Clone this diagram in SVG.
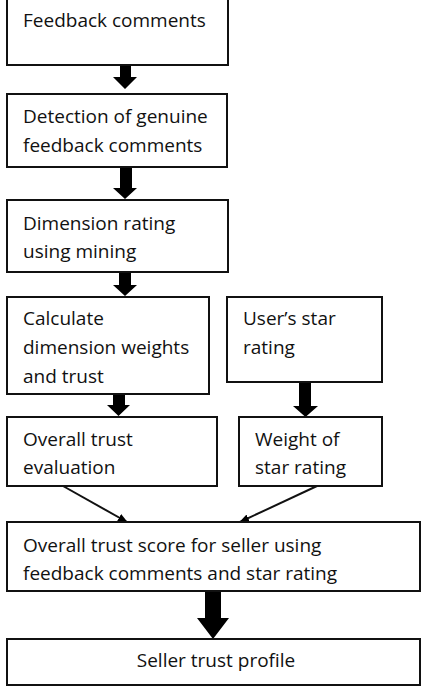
<svg xmlns="http://www.w3.org/2000/svg" width="425" height="687" viewBox="0 0 425 687">
<defs>
<style>
.box{fill:#fff;stroke:#111;stroke-width:2}
.t{font-family:"Open Sans","Liberation Sans",sans-serif;font-size:19px;fill:#111}
.blk{fill:#000}
.ln{stroke:#111;stroke-width:2;fill:none}
</style>
<marker id="ah" markerWidth="10" markerHeight="8" refX="9" refY="4" orient="auto" markerUnits="userSpaceOnUse">
<path d="M0,0 L10,4 L0,8 z" fill="#000"/>
</marker>
</defs>
<rect width="425" height="687" fill="#fff"/>
<g id="connectors">
<polygon class="blk" points="120,65 131,65 131,77 137,77 125,89 113,77 120,77"/>
<polygon class="blk" points="120,167 132,167 132,188 137,188 125,199 113,188 120,188"/>
<polygon class="blk" points="119,272 131,272 131,285 137,285 125,296 113,285 119,285"/>
<polygon class="blk" points="113,394 125,394 125,405 130,405 118.5,416 107,405 113,405"/>
<polygon class="blk" points="299,382 311,382 311,406 318,406 305.5,417 293,406 299,406"/>
<polygon class="blk" points="205,591 221,591 221,618 229,618 213,639 197,618 205,618"/>
<line class="ln" x1="63" y1="486" x2="127" y2="522" marker-end="url(#ah)"/>
<line class="ln" x1="317" y1="486" x2="240" y2="522" marker-end="url(#ah)"/>
</g>
<g id="n1"><rect class="box" x="7" y="-2" width="221" height="67"/><text class="t" x="23" y="27">Feedback comments</text></g>
<g id="n2"><rect class="box" x="7" y="94" width="220" height="73"/><text class="t" x="23" y="123">Detection of genuine</text><text class="t" x="23" y="152">feedback comments</text></g>
<g id="n3"><rect class="box" x="7" y="200" width="221" height="72"/><text class="t" x="23" y="230">Dimension rating</text><text class="t" x="23" y="258">using mining</text></g>
<g id="n4"><rect class="box" x="7" y="297" width="202" height="97"/><text class="t" x="23" y="325">Calculate</text><text class="t" x="23" y="354">dimension weights</text><text class="t" x="23" y="383">and trust</text></g>
<g id="n5"><rect class="box" x="227" y="297" width="155" height="85"/><text class="t" x="243" y="325">User’s star</text><text class="t" x="243" y="354">rating</text></g>
<g id="n6"><rect class="box" x="7" y="417" width="210" height="69"/><text class="t" x="23" y="446">Overall trust</text><text class="t" x="23" y="474">evaluation</text></g>
<g id="n7"><rect class="box" x="239" y="417" width="143" height="69"/><text class="t" x="255" y="446">Weight of</text><text class="t" x="255" y="474">star rating</text></g>
<g id="n8"><rect class="box" x="7" y="522" width="413" height="69"/><text class="t" x="23" y="552">Overall trust score for seller using</text><text class="t" x="23" y="580">feedback comments and star rating</text></g>
<g id="n9"><rect class="box" x="7" y="639" width="413" height="46"/><text class="t" x="216" y="667" text-anchor="middle">Seller trust profile</text></g>
</svg>
